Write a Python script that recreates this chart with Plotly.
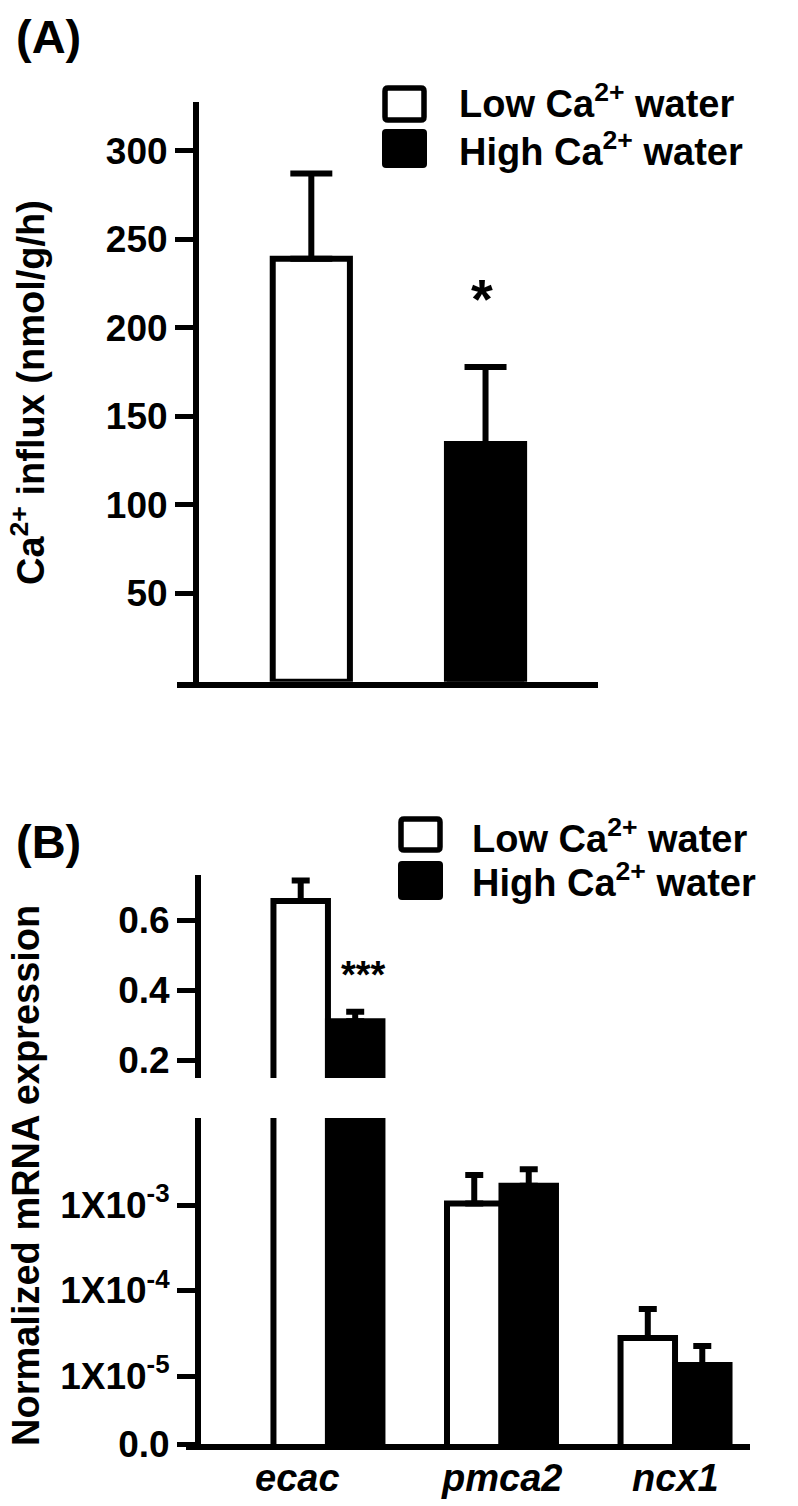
import plotly.graph_objects as go

# ---------------- data ----------------
series_names = ["Low Ca<sup>2+</sup> water", "High Ca<sup>2+</sup> water"]

# Panel A: Ca2+ influx (nmol/g/h)
influx_mean = [239.0, 134.3]
influx_err = [48.2, 43.5]
yticks_A = [50, 100, 150, 200, 250, 300]

# Panel B: normalized mRNA expression
genes = ["ecac", "pmca2", "ncx1"]
expr_low = [0.654, 1.04e-3, 2.78e-5]
expr_low_err = [0.059, 1.20e-3, 3.30e-5]
expr_high = [0.311, 1.68e-3, 1.35e-5]
expr_high_err = [0.027, 0.94e-3, 0.89e-5]
yticks_B_upper = [0.2, 0.4, 0.6]
yticks_B_lower = [1e-5, 1e-4, 1e-3]
yticks_B_lower_text = ["1X10<sup>-5</sup>", "1X10<sup>-4</sup>", "1X10<sup>-3</sup>"]

# ---------------- layout helpers ----------------
W, H = 798, 1506
def px(x):
    return x / W
def py(y):
    return 1 - y / H

FONT = "Liberation Sans"
LW = 6
BLACK = "black"

rangeA = [0, 327.7]
rangeB_up = [0.1486, 0.7286]
rangeB_low = [-5.795, -1.982]  # log10
xrangeA = [-0.771, 1.6456]
xrangeB = [-0.818, 2.432]

fig = go.Figure()

# ---- Panel A bars ----
bwA = 0.443
for i, (nm, fill) in enumerate(zip(series_names, ["white", "black"])):
    fig.add_trace(go.Bar(
        x=[nm], y=[influx_mean[i]],
        width=bwA, offset=-bwA / 2,
        marker=dict(color=fill, line=dict(color=BLACK, width=LW)),
        error_y=dict(type="data", array=[influx_err[i]], arrayminus=[0], symmetric=False,
                     color=BLACK, thickness=6, width=21),
        xaxis="x", yaxis="y", showlegend=False, name=nm,
    ))

# ---- Panel B bars (same data on upper linear and lower log segment) ----
bwB = 0.314
for xa, ya in [("x3", "y2"), ("x2", "y3")]:
    fig.add_trace(go.Bar(
        x=genes, y=expr_low, width=bwB, offset=-bwB,
        marker=dict(color="white", line=dict(color=BLACK, width=LW)),
        error_y=dict(type="data", array=expr_low_err, arrayminus=[0, 0, 0], symmetric=False,
                     color=BLACK, thickness=6, width=9),
        xaxis=xa, yaxis=ya, showlegend=False, name=series_names[0],
    ))
    fig.add_trace(go.Bar(
        x=genes, y=expr_high, width=bwB, offset=0,
        marker=dict(color="black", line=dict(color=BLACK, width=LW)),
        error_y=dict(type="data", array=expr_high_err, arrayminus=[0, 0, 0], symmetric=False,
                     color=BLACK, thickness=6, width=9),
        xaxis=xa, yaxis=ya, showlegend=False, name=series_names[1],
    ))

tickfont = dict(family=FONT, size=37, color=BLACK, weight="bold")
common_y = dict(showline=True, linewidth=LW, linecolor=BLACK, ticks="outside", ticklen=18,
                tickwidth=5, tickcolor=BLACK, showgrid=False, zeroline=False,
                tickfont=tickfont, anchor="free", automargin=False)
common_x = dict(showline=True, linewidth=LW, linecolor=BLACK, ticks="", showticklabels=False,
                showgrid=False, zeroline=False, automargin=False)

fig.update_layout(
    width=W, height=H,
    margin=dict(l=0, r=0, t=0, b=0, pad=0),
    paper_bgcolor="white", plot_bgcolor="rgba(0,0,0,0)",
    font=dict(family=FONT, color=BLACK, weight="bold"),
    showlegend=False,
    xaxis=dict(domain=[px(177), px(598)], range=xrangeA, anchor="y", **common_x),
    yaxis=dict(domain=[py(681.8), py(101.7)], range=rangeA, position=px(196),
               tickvals=yticks_A, **common_y),
    xaxis2=dict(domain=[px(186), px(750)], range=xrangeB, anchor="y3", **common_x),
    yaxis3=dict(domain=[py(1444), py(1118)], type="log", range=rangeB_low, position=px(198),
                tickvals=[10 ** rangeB_low[0]] + yticks_B_lower,
                ticktext=["0.0"] + yticks_B_lower_text, **common_y),
    xaxis3=dict(domain=[px(186), px(750)], range=xrangeB, anchor="y2", visible=False),
    yaxis2=dict(domain=[py(1078), py(875)], range=rangeB_up, position=px(198),
                tickvals=yticks_B_upper, tickformat=".1f", **common_y),
)

# ---- legends (drawn boxes + text) ----
shapes = []
annotations = []

def rounded_rect(x0, y0, x1, y1, r):
    # coordinates in pixels (y downwards) -> paper path
    X = lambda v: px(v)
    Y = lambda v: py(v)
    return (f"M {X(x0 + r)},{Y(y0)} L {X(x1 - r)},{Y(y0)} Q {X(x1)},{Y(y0)} {X(x1)},{Y(y0 + r)} "
            f"L {X(x1)},{Y(y1 - r)} Q {X(x1)},{Y(y1)} {X(x1 - r)},{Y(y1)} "
            f"L {X(x0 + r)},{Y(y1)} Q {X(x0)},{Y(y1)} {X(x0)},{Y(y1 - r)} "
            f"L {X(x0)},{Y(y0 + r)} Q {X(x0)},{Y(y0)} {X(x0 + r)},{Y(y0)} Z")

def legend(x0, y_low, y_high, text_x, ty_low, ty_high):
    shapes.append(dict(type="path", xref="paper", yref="paper",
                       path=rounded_rect(x0 + 3, y_low[0] + 3, x0 + 42, y_low[1] - 3, 3),
                       fillcolor="white", line=dict(color=BLACK, width=5.5)))
    shapes.append(dict(type="path", xref="paper", yref="paper",
                       path=rounded_rect(x0, y_high[0], x0 + 45, y_high[1], 4),
                       fillcolor=BLACK, line=dict(color=BLACK, width=0)))
    for nm, ty in zip(series_names, [ty_low, ty_high]):
        annotations.append(dict(text=nm, xref="paper", yref="paper", x=px(text_x), y=py(ty),
                                xanchor="left", yanchor="middle", showarrow=False,
                                font=dict(family=FONT, size=38, color=BLACK, weight="bold")))

legend(382, (85, 123), (129, 168), 457, 101, 149)
legend(398, (816, 853), (861, 900), 470, 836, 880)

# panel labels
for lab, yy in [("(A)", 37), ("(B)", 842)]:
    annotations.append(dict(text=lab, xref="paper", yref="paper", x=px(14), y=py(yy),
                            xanchor="left", yanchor="middle", showarrow=False,
                            font=dict(family=FONT, size=47, color=BLACK, weight="bold")))

# axis titles
annotations.append(dict(text="Ca<sup>2+</sup> influx (nmol/g/h)", xref="paper", yref="paper",
                        x=px(28), y=py(393), textangle=-90, showarrow=False,
                        xanchor="center", yanchor="middle",
                        font=dict(family=FONT, size=38, color=BLACK, weight="bold")))
annotations.append(dict(text="Normalized mRNA expression", xref="paper", yref="paper",
                        x=px(26), y=py(1176), textangle=-90, showarrow=False,
                        xanchor="center", yanchor="middle",
                        font=dict(family=FONT, size=38, color=BLACK, weight="bold")))

# category labels
shifts = [-30, 0, 0]
for g, s in zip(genes, shifts):
    annotations.append(dict(text=g, xref="x2", yref="paper", x=g, y=py(1478), xshift=s,
                            showarrow=False, xanchor="center", yanchor="middle",
                            font=dict(family=FONT, size=38, color=BLACK, weight="bold",
                                      style="italic")))

# significance marks
annotations.append(dict(text="*", xref="paper", yref="paper", x=px(482), y=py(298),
                        showarrow=False, xanchor="center", yanchor="middle",
                        font=dict(family=FONT, size=56, color=BLACK, weight="bold")))
annotations.append(dict(text="***", xref="paper", yref="paper", x=px(363), y=py(975),
                        showarrow=False, xanchor="center", yanchor="middle",
                        font=dict(family=FONT, size=38, color=BLACK, weight="bold")))

fig.update_layout(shapes=shapes, annotations=annotations)

fig.write_html("out.html", config={"displayModeBar": False},
               post_script="document.body.style.margin='0px';")
